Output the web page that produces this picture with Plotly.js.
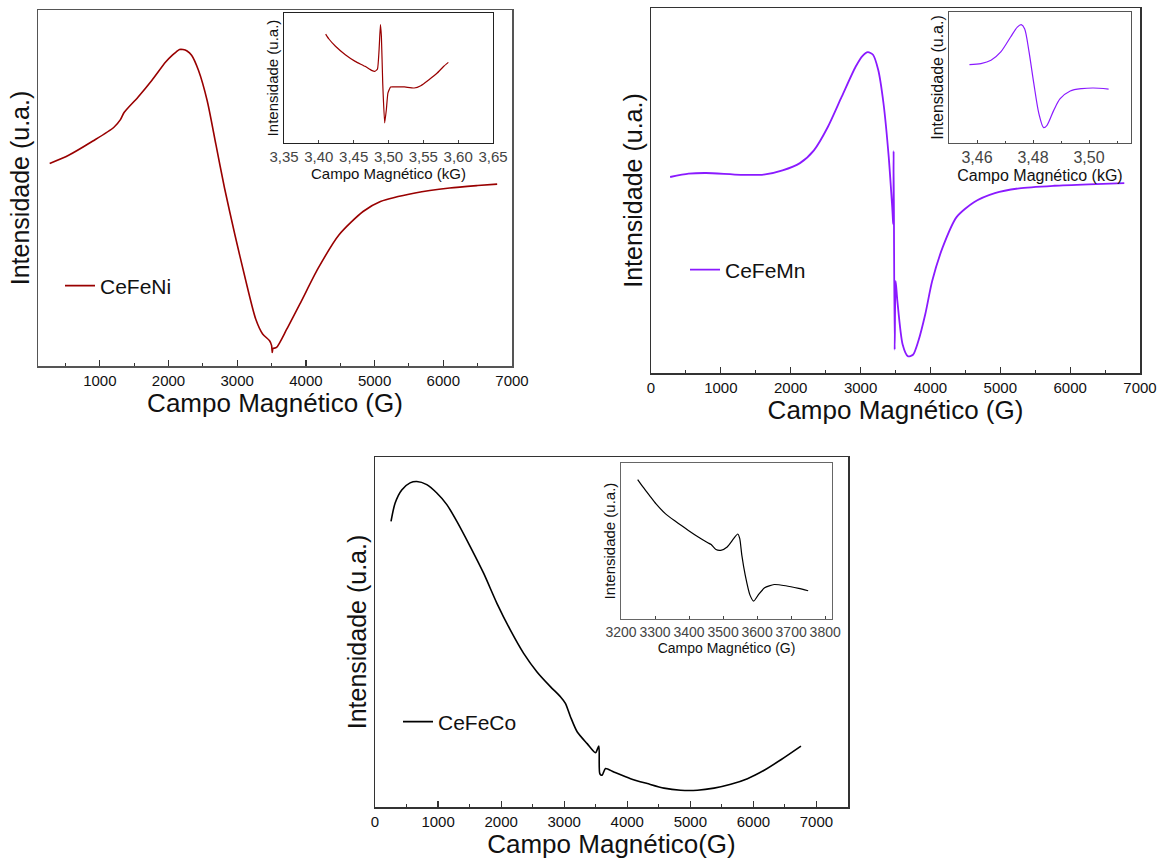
<!DOCTYPE html>
<html>
<head>
<meta charset="utf-8">
<script src="https://cdn.plot.ly/plotly-3.0.1.min.js"></script>
<style>html,body{margin:0;padding:0;background:#fff;}#chart{width:1165px;height:860px;}</style>
</head>
<body>
<div id="chart"></div>
<script>
// ---------- DATA (intensity in arbitrary units) ----------
// CeFeNi main spectrum
const niX = [270, 546, 899, 1202, 1300, 1353, 1555, 1756, 1958, 2060, 2110, 2160, 2210, 2270, 2336, 2437, 2563, 2689, 2815, 2967, 3118, 3269, 3370, 3471, 3500, 3510, 3521, 3572, 3723, 3925, 4177, 4480, 4832, 5085, 5589, 6093, 6500, 6784];
const niY = [56.9, 59.2, 63.2, 67.0, 69.2, 71.2, 75.5, 80.2, 85.4, 87.4, 88.2, 88.9, 88.9, 88.5, 87.3, 83.0, 74.5, 62.3, 50.0, 36.8, 24.5, 13.2, 9.0, 7.1, 5.8, 3.8, 4.9, 5.2, 10.4, 17.9, 27.4, 36.8, 43.4, 46.2, 48.6, 50.0, 50.7, 51.1];
// CeFeNi inset (kG)
const niInX = [3.4098, 3.4145, 3.4239, 3.4380, 3.4522, 3.4663, 3.4757, 3.4804, 3.4842, 3.4865, 3.4884, 3.4898, 3.4917, 3.4945, 3.4969, 3.4992, 3.5030, 3.5110, 3.5228, 3.5369, 3.5463, 3.5581, 3.5699, 3.5793, 3.5859];
const niInY = [83.8, 80.0, 74.4, 67.9, 62.8, 59.0, 55.9, 55.1, 56.9, 71.8, 91.0, 82.1, 46.2, 15.4, 25.6, 38.5, 43.1, 43.1, 43.1, 42.3, 44.1, 48.7, 53.8, 59.0, 62.0];
// CeFeMn main spectrum
const mnX = [274, 538, 787, 1285, 1634, 1883, 2132, 2332, 2531, 2730, 2929, 3029, 3104, 3178, 3253, 3328, 3403, 3453, 3468, 3473, 3488, 3502, 3527, 3602, 3677, 3751, 3826, 3926, 4025, 4175, 4374, 4623, 4922, 5271, 5769, 6267, 6775];
const mnY = [53.7, 54.6, 54.8, 54.3, 54.4, 55.5, 57.5, 61.0, 67.4, 75.7, 83.9, 86.9, 87.9, 87.2, 83.0, 73.9, 59.2, 45.4, 40.8, 60.8, 6.4, 25.2, 19.7, 7.8, 4.6, 5.0, 8.7, 16.1, 25.2, 34.4, 42.7, 46.8, 49.3, 50.6, 51.3, 51.7, 52.0];
// CeFeMn inset (kG)
const mnInX = [3.4573, 3.4614, 3.4650, 3.4685, 3.4720, 3.4744, 3.4758, 3.4770, 3.4785, 3.4803, 3.4821, 3.4838, 3.4850, 3.4874, 3.4897, 3.4933, 3.4974, 3.5015, 3.5070];
const mnInY = [59.8, 60.6, 63.1, 69.5, 80.9, 88.5, 90.3, 87.3, 70.7, 45.3, 22.4, 11.7, 13.5, 24.9, 33.8, 39.7, 41.5, 42.0, 41.2];
// CeFeCo main spectrum
const coX = [254, 318, 424, 556, 662, 821, 980, 1139, 1298, 1510, 1722, 1933, 2145, 2357, 2569, 2781, 2940, 3019, 3099, 3205, 3364, 3496, 3549, 3565, 3602, 3655, 3787, 4052, 4317, 4582, 4847, 5112, 5376, 5641, 5906, 6171, 6436, 6754];
const coY = [81.6, 86.8, 90.6, 92.6, 93.0, 92.1, 89.7, 86.4, 81.6, 74.4, 66.8, 58.2, 50.6, 43.9, 38.6, 34.4, 31.5, 29.6, 25.8, 21.5, 18.1, 15.5, 17.4, 9.5, 9.1, 11.0, 10.0, 8.1, 6.7, 5.4, 4.8, 4.8, 5.4, 6.5, 8.1, 10.5, 13.5, 17.4];
// CeFeCo inset (G)
const coInX = [3249, 3265, 3284, 3303, 3331, 3360, 3398, 3427, 3455, 3465, 3479, 3493, 3512, 3531, 3543, 3549, 3555, 3565, 3579, 3590, 3603, 3622, 3650, 3684, 3722, 3750];
const coInY = [89.4, 84.5, 79.1, 73.8, 67.4, 62.6, 56.8, 52.6, 48.9, 47.7, 44.5, 44.0, 46.2, 51.5, 54.5, 51.5, 40.9, 28.1, 15.3, 11.5, 15.3, 20.0, 22.1, 21.3, 19.6, 18.1];

const seriesNames = ['CeFeNi', 'CeFeMn', 'CeFeCo'];
const mainXTitles = ['Campo Magnético (G)', 'Campo Magnético (G)', 'Campo Magnético(G)'];
const insetXTitles = ['Campo Magnético (kG)', 'Campo Magnético (kG)', 'Campo Magnético (G)'];
const yTitle = 'Intensidade (u.a.)';

// ---------- STYLE ----------
const FONT = 'Liberation Sans, Arial, sans-serif';
const W = 1165, H = 860;
const colNi = '#990000', colMn = '#8A1AFF', colCo = '#000000';

function dom(px0, px1, py0, py1) {
  return {x: [px0 / W, px1 / W], y: [1 - py1 / H, 1 - py0 / H]};
}
const dP1 = dom(38, 512, 10, 366);
const dP2 = dom(651, 1140, 8, 373);
const dP3 = dom(375, 848, 457, 807);
const dI1 = dom(284, 493, 13, 143);
const dI2 = dom(949, 1131, 12, 143);
const dI3 = dom(621, 832, 463, 619);

function mainX(d, range, title, lc) {
  return {domain: d.x, range: range, showgrid: false, zeroline: false,
    showline: true, mirror: true, linecolor: lc, linewidth: 1.5,
    ticks: 'inside', ticklen: 6, tickwidth: 1.2, tickcolor: '#333', dtick: 1000, tick0: 0, tickformat: 'd',
    minor: {ticks: 'inside', ticklen: 3, tickwidth: 1, tickcolor: '#333', dtick: 500},
    tickfont: {family: FONT, size: 15, color: '#111'},
    title: {text: title, font: {family: FONT, size: 26, color: '#111'}, standoff: 3}};
}
function mainY(d, title, lc) {
  return {domain: d.y, range: [0, 100], showgrid: false, zeroline: false,
    showline: true, mirror: true, linecolor: lc, linewidth: 1.5,
    ticks: '', showticklabels: false,
    title: {text: title, font: {family: FONT, size: 25, color: '#111'}, standoff: 0}};
}
function insX(d, range, dtick, tick0, fmt, title, lc, fs, minorD) {
  const a = {domain: d.x, range: range, showgrid: false, zeroline: false,
    showline: true, mirror: true, linecolor: lc, linewidth: 1,
    ticks: 'inside', ticklen: 3, tickwidth: 1, tickcolor: '#444', dtick: dtick, tick0: tick0, tickformat: fmt,
    tickfont: {family: FONT, size: fs, color: '#444'},
    title: {text: title, font: {family: FONT, size: fs, color: '#111'}, standoff: 4}};
  if (minorD) a.minor = {ticks: 'inside', ticklen: 2, tickwidth: 1, tickcolor: '#444', dtick: minorD};
  return a;
}
function insY(d, title, lc, fs) {
  return {domain: d.y, range: [0, 100], showgrid: false, zeroline: false,
    showline: true, mirror: true, linecolor: lc, linewidth: 1,
    ticks: '', showticklabels: false,
    title: {text: title, font: {family: FONT, size: fs, color: '#111'}, standoff: 0}};
}

const smooth = {shape: 'spline', smoothing: 0.7};
const traces = [
  {x: niX, y: niY, xaxis: 'x', yaxis: 'y', name: seriesNames[0], mode: 'lines', line: Object.assign({color: colNi, width: 1.6}, smooth), legend: 'legend'},
  {x: mnX, y: mnY, xaxis: 'x2', yaxis: 'y2', name: seriesNames[1], mode: 'lines', line: Object.assign({color: colMn, width: 1.8}, smooth), legend: 'legend2'},
  {x: coX, y: coY, xaxis: 'x3', yaxis: 'y3', name: seriesNames[2], mode: 'lines', line: Object.assign({color: colCo, width: 1.6}, smooth), legend: 'legend3'},
  {x: niInX, y: niInY, xaxis: 'x4', yaxis: 'y4', mode: 'lines', line: {color: colNi, width: 1.2, shape: 'spline', smoothing: 0.4}, showlegend: false},
  {x: mnInX, y: mnInY, xaxis: 'x5', yaxis: 'y5', mode: 'lines', line: {color: colMn, width: 1.2, shape: 'spline', smoothing: 0.8}, showlegend: false},
  {x: coInX, y: coInY, xaxis: 'x6', yaxis: 'y6', mode: 'lines', line: {color: colCo, width: 1.2, shape: 'spline', smoothing: 0.6}, showlegend: false}
];

function leg(x, y) {
  return {x: x, y: y, xanchor: 'left', yanchor: 'middle', bgcolor: 'rgba(0,0,0,0)', borderwidth: 0,
    font: {family: FONT, size: 21, color: '#111'}};
}

const layout = {
  width: W, height: H, margin: {l: 0, r: 0, t: 0, b: 0},
  paper_bgcolor: '#fff', plot_bgcolor: '#fff', separators: ',.',
  showlegend: true,
  xaxis: Object.assign(mainX(dP1, [100, 7000], mainXTitles[0], '#555'), {anchor: 'y'}),
  yaxis: Object.assign(mainY(dP1, yTitle, '#555'), {anchor: 'x'}),
  xaxis2: Object.assign(mainX(dP2, [0, 7000], mainXTitles[1], '#333'), {anchor: 'y2'}),
  yaxis2: Object.assign(mainY(dP2, yTitle, '#333'), {anchor: 'x2'}),
  xaxis3: Object.assign(mainX(dP3, [0, 7500], mainXTitles[2], '#333'), {anchor: 'y3'}),
  yaxis3: Object.assign(mainY(dP3, yTitle, '#333'), {anchor: 'x3'}),
  xaxis4: Object.assign(insX(dI1, [3.35, 3.65], 0.05, 3.35, '.2f', insetXTitles[0], '#222', 15, null), {anchor: 'y4'}),
  yaxis4: Object.assign(insY(dI1, yTitle, '#222', 15), {anchor: 'x4'}),
  xaxis5: Object.assign(insX(dI2, [3.45, 3.515], 0.02, 3.46, '.2f', insetXTitles[1], '#555', 16, 0.01), {anchor: 'y5'}),
  yaxis5: Object.assign(insY(dI2, yTitle, '#555', 16), {anchor: 'x5'}),
  xaxis6: Object.assign(insX(dI3, [3200, 3820], 100, 3200, 'd', insetXTitles[2], '#666', 14, null), {anchor: 'y6'}),
  yaxis6: Object.assign(insY(dI3, yTitle, '#666', 15), {anchor: 'x6'}),
  legend: leg(60 / W, 1 - 286 / H),
  legend2: leg(685 / W, 1 - 270 / H),
  legend3: leg(398 / W, 1 - 722 / H)
};

Plotly.newPlot('chart', traces, layout, {staticPlot: true, displayModeBar: false});
</script>
</body>
</html>
